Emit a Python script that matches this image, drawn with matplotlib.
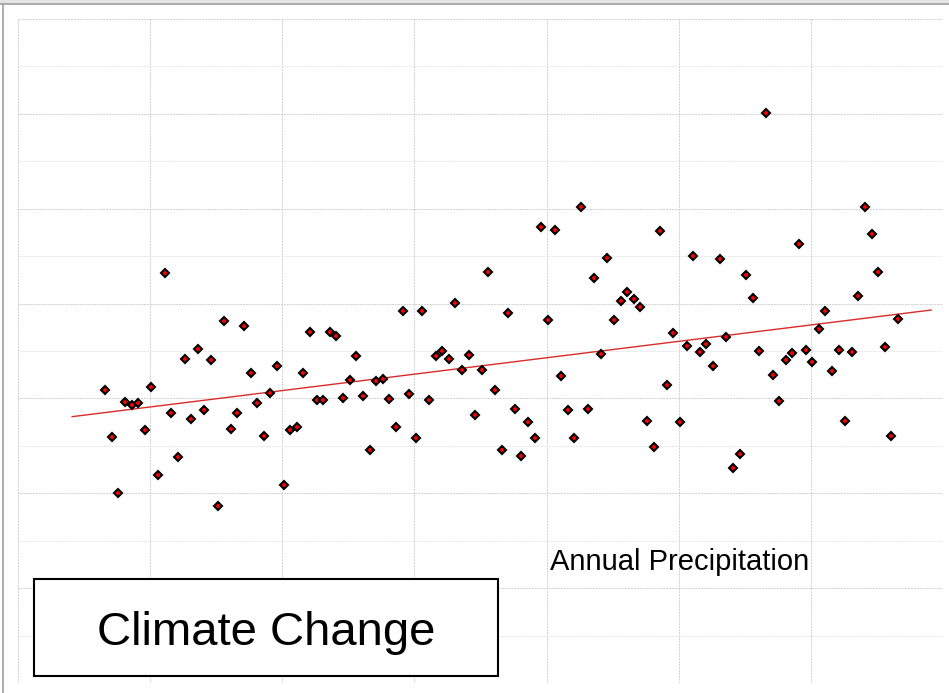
import numpy as np
import matplotlib
matplotlib.use("Agg")
import matplotlib.pyplot as plt
from matplotlib.patches import Rectangle
from matplotlib.lines import Line2D

plt.rcParams['font.family'] = ['Liberation Sans', 'DejaVu Sans']

# anos e precipitacao anual (polegadas)
anos = np.arange(1895, 2016)
precip = [
    30.36, 28.37, 26.01, 29.85, 29.72, 29.81, 28.67, 30.48, 26.77, 35.29,
    29.39, 27.53, 31.66, 29.13, 32.08, 29.51, 31.62, 25.46, 33.27, 28.71,
    29.39, 33.05, 31.07, 29.81, 28.42, 30.23, 31.37, 26.35, 28.67, 28.80,
    31.07, 32.80, 29.93, 29.93, 32.80, 32.63, 30.02, 30.78, 31.79, 30.10,
    27.83, 30.74, 30.82, 29.98, 28.80, 33.69, 30.19, 28.33, 33.69, 29.93,
    31.79, 32.00, 31.66, 34.02, 31.20, 31.83, 29.30, 31.20, 35.33, 30.36,
    27.83, 33.60, 29.55, 27.57, 29.01, 28.33, 37.23, 33.31, 37.10, 30.95,
    29.51, 28.33, 38.07, 29.55, 35.08, 31.87, 35.92, 33.31, 34.11, 34.49,
    34.19, 33.86, 29.05, 27.95, 37.06, 30.57, 32.76, 29.01, 32.21, 36.01,
    31.96, 32.30, 31.37, 35.88, 32.59, 27.07, 27.66, 35.21, 34.24, 32.00,
    42.04, 30.99, 29.89, 31.62, 31.92, 36.51, 32.04, 31.54, 32.93, 33.69,
    31.16, 32.04, 29.05, 31.96, 34.32, 38.07, 36.93, 35.33, 32.17, 28.42,
    33.35,
]
precip = np.array(precip)

titulo_eixo = "Annual Precipitation"
titulo_caixa = "Climate Change"

fig = plt.figure(figsize=(9.49, 6.93), dpi=100)
ax = fig.add_axes([18 / 949, 10 / 693, 925 / 949, 664 / 693])

# grade: principais a cada 4, secundarias a cada 2
ax.set_xlim(1881.8, 2021.8)
ax.set_ylim(18, 46)
ax.set_xticks(np.arange(1881.8, 2022, 20))
ax.set_yticks(np.arange(18, 47, 4))
ax.set_yticks(np.arange(20, 46, 4), minor=True)
ax.grid(True, which='major', color='#d0d0d0', linestyle=(0, (2, 1)), linewidth=0.7)
ax.grid(True, which='minor', axis='y', color='#e6e6e6', linestyle=(0, (2, 1)), linewidth=0.7)
ax.tick_params(which='both', length=0, labelbottom=False, labelleft=False)
for s in ax.spines.values():
    s.set_visible(False)

# reta de tendencia
a, b = np.polyfit(anos, precip, 1)
xs = np.array([anos[0] - 5, anos[-1] + 5])
ax.plot(xs, a * xs + b, color='#d92b2b', linewidth=1.0, zorder=2)

ax.plot(anos, precip, linestyle='none', marker='D', markersize=4.0,
        markerfacecolor='#ff0000', markeredgecolor='black', markeredgewidth=1.5, zorder=3)

ax.text(0.715, 0.182, titulo_eixo, transform=ax.transAxes, fontsize=21,
        ha='center', va='center', color='black')

ax.add_patch(Rectangle((0.0173, 0.0105), 0.5017, 0.1465, transform=ax.transAxes,
                       facecolor='white', edgecolor='black', linewidth=1.5, zorder=4))
ax.text(0.268, 0.076, titulo_caixa, transform=ax.transAxes, fontsize=34,
        ha='center', va='center', color='black', zorder=5)

# moldura cinza da janela
fig.add_artist(Line2D([3 / 949, 3 / 949], [0, 1 - 4 / 693], transform=fig.transFigure,
                      color='#a0a0a0', linewidth=1.2))
fig.add_artist(Line2D([0, 1], [1 - 4 / 693, 1 - 4 / 693], transform=fig.transFigure,
                      color='#a0a0a0', linewidth=1.2))
fig.add_artist(Rectangle((0, 1 - 4 / 693), 1, 4 / 693, transform=fig.transFigure,
                         facecolor='#e4e4e4', edgecolor='none'))

fig.savefig("out.png", dpi=100)
